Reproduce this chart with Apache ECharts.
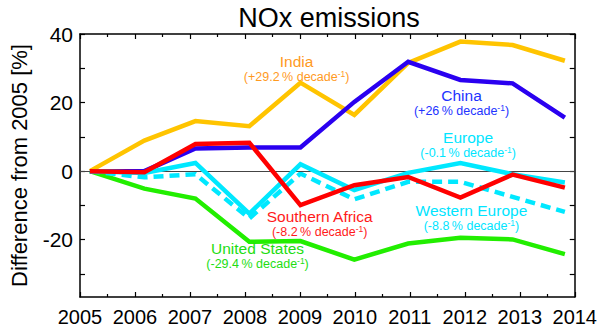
<!DOCTYPE html>
<html><head><meta charset="utf-8">
<script src="https://cdn.jsdelivr.net/npm/echarts@6/dist/echarts.min.js"></script>
<style>html,body{margin:0;padding:0;background:#fff}#c{width:600px;height:335px}</style>
</head><body><div id="c"></div>
<script>
// ---- data ----
const years = [2005, 2006, 2007, 2008, 2009, 2010, 2011, 2012, 2013, 2014];
// plotted x positions of the yearly points (slightly offset from the year ticks in the original)
const xPos = [2005.18, 2006.17, 2007.10, 2008.08, 2009.01, 2009.99, 2010.97, 2011.92, 2012.87, 2013.82];
const india   = [0, 8.9, 14.6, 13.1, 25.8, 16.4, 31.6, 37.8, 36.8, 32.2];
const china   = [0, 0.0, 6.6, 6.9, 6.9, 20.2, 31.9, 26.6, 25.6, 15.6];
const sAfrica = [0, -0.3, 7.9, 8.3, -9.9, -4.1, -1.7, -7.7, -1.0, -4.8];
const europe  = [0, -0.5, 2.4, -12.4, 2.0, -5.5, -0.5, 2.4, -0.9, -3.3];
const wEurope = [0, -1.8, -0.9, -13.8, -0.7, -8.2, -3.1, -3.1, -7.5, -11.9];
const us      = [0, -5.1, -8.0, -20.6, -20.4, -25.8, -21.1, -19.4, -19.9, -24.2];
const yLabelValues = [-20, 0, 20, 40];
const yTickValues = [-30, -20, -10, 0, 10, 20, 30, 40];

// annotations
const annoNames = ['India', 'China', 'Europe', 'Western Europe', 'Southern Africa', 'United States'];
const annoRates = ['+29.2', '+26', '-0.1', '-8.8', '-8.2', '-29.4'];
const annoX = [2008.94, 2011.94, 2012.06, 2012.12, 2009.36, 2008.23];
const annoY = [29.9, 20.0, 7.7, -13.7, -15.3, -24.6];
const annoColors = ['#FF9A1E', '#2233FF', '#00E5FF', '#00E5FF', '#FF1A1A', '#22DD11'];

const SANS = "'Liberation Sans', Arial, Helvetica, sans-serif";

const pts = arr => arr.map((v, i) => [xPos[i], v]);

const chart = echarts.init(document.getElementById('c'), null, {renderer: 'svg'});

const lineSeries = (name, data, color, dashed, z) => ({
  name, type: 'line', data: pts(data), showSymbol: false, symbol: 'none',
  lineStyle: {color, width: 4.5, type: dashed ? [10, 6] : 'solid', cap: 'butt', join: 'miter'},
  z, animation: false
});

const xAxisBase = {
  type: 'value', min: 2005, max: 2014, interval: 1,
  axisLine: {show: true, onZero: false, lineStyle: {color: '#000', width: 1.5}},
  axisTick: {show: true, inside: true, length: 5, lineStyle: {color: '#000', width: 1.2}},
  minorTick: {show: true, splitNumber: 2, length: 3, lineStyle: {color: '#000', width: 1.2}},
  splitLine: {show: false}, minorSplitLine: {show: false}
};
const yAxisBase = {
  type: 'value', min: -36.7, max: 40,
  axisLine: {show: true, onZero: false, lineStyle: {color: '#000', width: 1.5}},
  axisTick: {show: true, inside: true, length: 5, customValues: yTickValues, lineStyle: {color: '#000', width: 1.2}},
  splitLine: {show: false}
};

chart.setOption({
  animation: false,
  backgroundColor: '#fff',
  title: {
    text: 'NOx emissions', left: 324, top: -1, textAlign: 'center',
    textStyle: {fontSize: 27, fontWeight: 'normal', color: '#000', fontFamily: SANS}
  },
  grid: {left: 73, right: 25, top: 34, bottom: 38, containLabel: false},
  xAxis: [
    Object.assign({}, xAxisBase, {
      position: 'bottom',
      axisLabel: {show: true, margin: 10, fontSize: 20, color: '#000', fontFamily: SANS,
        formatter: v => String(Math.round(v))}
    }),
    Object.assign({}, xAxisBase, {position: 'top', axisLabel: {show: false}})
  ],
  yAxis: [
    Object.assign({}, yAxisBase, {
      position: 'left',
      name: 'Difference from 2005 [%]', nameLocation: 'middle', nameGap: 50, nameRotate: 90,
      nameTextStyle: {fontSize: 22, color: '#000', fontFamily: SANS},
      axisLabel: {show: true, margin: 7, fontSize: 21, color: '#000', fontFamily: SANS,
        customValues: yLabelValues}
    }),
    Object.assign({}, yAxisBase, {position: 'right', axisLabel: {show: false}})
  ],
  series: [
    {
      name: 'zero', type: 'line', data: [], symbol: 'none', z: 1,
      markLine: {
        silent: true, symbol: 'none', animation: false,
        label: {show: false},
        lineStyle: {color: '#444', width: 1, type: 'solid'},
        data: [{yAxis: 0}]
      }
    },
    lineSeries('United States', us, '#22EE00', false, 2),
    lineSeries('Western Europe', wEurope, '#00E8FF', true, 3),
    lineSeries('India', india, '#FFC400', false, 4),
    lineSeries('China', china, '#2A00F0', false, 5),
    lineSeries('Europe', europe, '#00E8FF', false, 6),
    lineSeries('Southern Africa', sAfrica, '#FF0000', false, 7)
  ]
});

// annotations placed through the chart's own scales
const graphics = annoNames.map((name, i) => {
  const p = chart.convertToPixel({gridIndex: 0}, [annoX[i], annoY[i]]);
  const c = annoColors[i];
  return {
    type: 'text', x: p[0], y: p[1], z: 20,
    style: {
      text: '{t|' + name + '}\n{s|(' + annoRates[i] + '\u2009% decade}{p|-1}{s|)}',
      align: 'center', verticalAlign: 'middle',
      rich: {
        t: {fontSize: 15.5, lineHeight: 16, fill: c, fontFamily: SANS},
        s: {fontSize: 12.5, lineHeight: 15, fill: c, fontFamily: SANS},
        p: {fontSize: 8.5, lineHeight: 15, fill: c, fontFamily: SANS, verticalAlign: 'top', padding: [0, 0, 6, 0]}
      }
    }
  };
});
chart.setOption({graphic: graphics});
</script>
</body></html>
